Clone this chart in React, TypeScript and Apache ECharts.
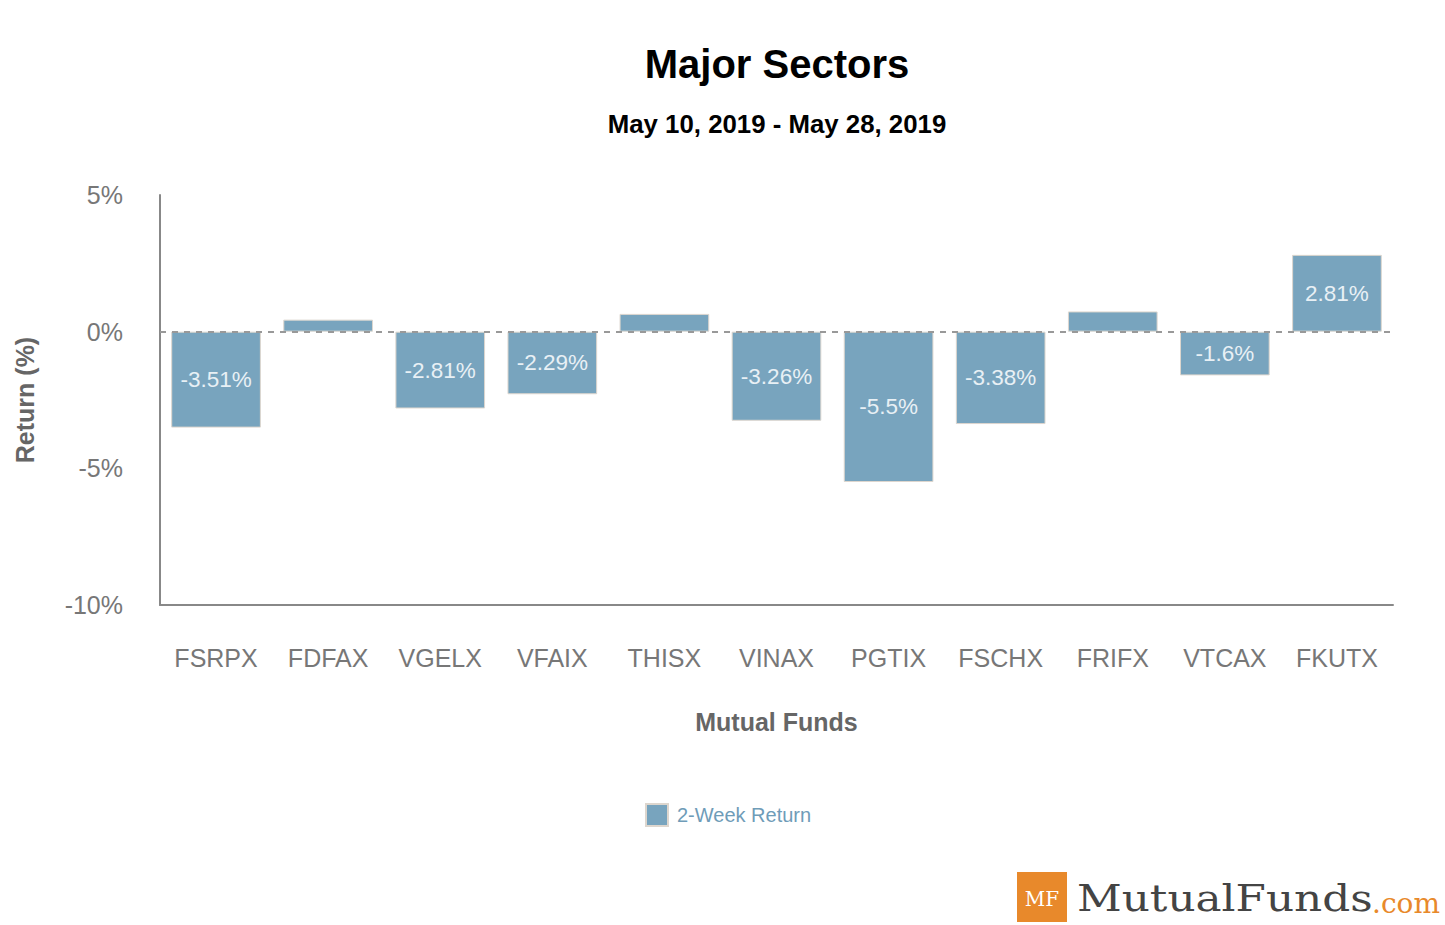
import React, { useEffect, useRef } from "react";
import * as echarts from "echarts";

const categories = ["FSRPX", "FDFAX", "VGELX", "VFAIX", "THISX", "VINAX", "PGTIX", "FSCHX", "FRIFX", "VTCAX", "FKUTX"];
const returns = [-3.51, 0.44, -2.81, -2.29, 0.65, -3.26, -5.5, -3.38, 0.74, -1.6, 2.81];
const seriesName = "2-Week Return";
const titleText = "Major Sectors";
const subtitleText = "May 10, 2019 - May 28, 2019";
const yMin = -10;
const yMax = 5;
const yStep = 5;

const BAR = "#78a4be";
const ORANGE = "#E8892B";

export default function App() {
  const ref = useRef<HTMLDivElement>(null);
  useEffect(() => {
    if (!ref.current) return;
    const chart = echarts.init(ref.current, null, { renderer: "svg" });
    chart.setOption({
      animation: false,
      backgroundColor: "#ffffff",
      textStyle: { fontFamily: "Liberation Sans, Arial, sans-serif" },
      grid: { left: 160, right: 52, top: 195, bottom: 320, containLabel: false },
      legend: {
        data: [seriesName],
        left: 640,
        top: 798,
        itemWidth: 22,
        itemHeight: 22,
        itemGap: 10,
        icon: "rect",
        textStyle: {
          fontSize: 20,
          color: "#6f9cb8",
          padding: [0, 0, 0, 4],
          fontFamily: "Liberation Sans, Arial, sans-serif",
        },
      },
      xAxis: {
        type: "category",
        data: categories,
        name: "Mutual Funds",
        nameLocation: "middle",
        nameGap: 104,
        nameTextStyle: { fontSize: 25, fontWeight: "bold", color: "#666" },
        axisLine: { onZero: false, lineStyle: { color: "#888", width: 2 } },
        axisTick: { show: false },
        axisLabel: { fontSize: 25, color: "#777", margin: 40, interval: 0 },
      },
      yAxis: {
        type: "value",
        min: yMin,
        max: yMax,
        interval: yStep,
        name: "Return (%)",
        nameLocation: "middle",
        nameGap: 123,
        nameTextStyle: { fontSize: 25, fontWeight: "bold", color: "#666" },
        axisLine: { show: true, lineStyle: { color: "#888", width: 2 } },
        axisTick: { show: false },
        splitLine: { show: false },
        axisLabel: { fontSize: 25, color: "#777", margin: 37, formatter: "{value}%" },
      },
      series: [
        {
          name: seriesName,
          type: "bar",
          data: returns,
          barWidth: "80%",
          itemStyle: { color: BAR, borderColor: "#ddd6ce", borderWidth: 1 },
          label: {
            show: true,
            position: "inside",
            fontSize: 22.5,
            color: "#e8f0f5",
            formatter: (p: any) => (Math.abs(p.value) >= 1 ? `${p.value}%` : ""),
          },
          markLine: {
            silent: true,
            symbol: "none",
            label: { show: false },
            lineStyle: { type: [6, 6], color: "#999", width: 2 },
            data: [{ yAxis: 0 }],
            z: 10,
          },
        },
      ],
      graphic: [
        {
          type: "text",
          x: 777,
          y: 64,
          style: {
            text: titleText,
            font: 'bold 40px "Liberation Sans", Arial, sans-serif',
            fill: "#000",
            align: "center",
            verticalAlign: "middle",
            textAlign: "center",
            textVerticalAlign: "middle",
          },
        },
        {
          type: "text",
          x: 777,
          y: 124,
          style: {
            text: subtitleText,
            font: 'bold 25.8px "Liberation Sans", Arial, sans-serif',
            fill: "#000",
            align: "center",
            verticalAlign: "middle",
            textAlign: "center",
            textVerticalAlign: "middle",
          },
        },
        {
          type: "rect",
          shape: { x: 1017, y: 872, width: 50, height: 50 },
          style: { fill: ORANGE },
        },
        {
          type: "text",
          x: 1042,
          y: 899,
          style: {
            text: "MF",
            font: '20px "DejaVu Serif", serif',
            fill: "#fff",
            align: "center",
            verticalAlign: "middle",
            textAlign: "center",
            textVerticalAlign: "middle",
          },
        },
        {
          type: "text",
          x: 1077,
          y: 898,
          scaleX: 1.15,
          style: {
            text: "MutualFunds",
            font: '38px "DejaVu Serif", serif',
            fill: "#444",
            align: "left",
            verticalAlign: "middle",
            textAlign: "left",
            textVerticalAlign: "middle",
          },
        },
        {
          type: "text",
          x: 1372,
          y: 903,
          style: {
            text: ".com",
            font: '28px "DejaVu Serif", serif',
            fill: ORANGE,
            align: "left",
            verticalAlign: "middle",
            textAlign: "left",
            textVerticalAlign: "middle",
          },
        },
      ],
    });
    return () => chart.dispose();
  }, []);
  return (
    <div
      ref={ref}
      style={{ position: "fixed", left: 0, top: 0, width: "1445px", height: "925px" }}
    />
  );
}
